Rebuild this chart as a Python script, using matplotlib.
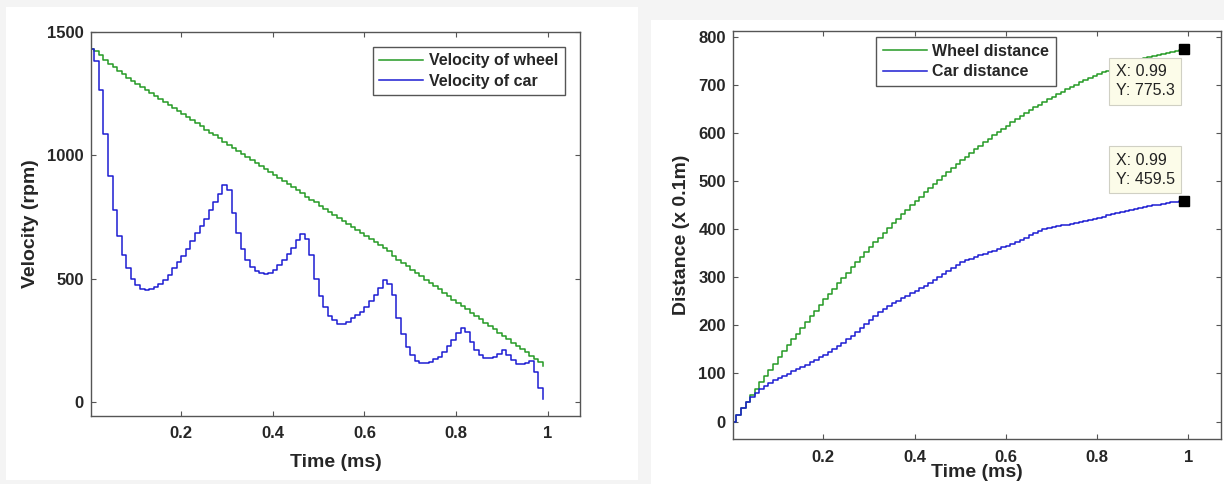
import matplotlib
matplotlib.use('Agg')
import matplotlib.pyplot as plt
from matplotlib.patches import Rectangle

time_ms = [round(0.01 * k, 2) for k in range(100)]
wheel_velocity = [1432, 1422, 1404, 1387, 1371, 1356, 1342, 1328, 1314, 1301,
                  1289, 1277, 1265, 1252, 1240, 1228, 1215, 1203, 1191, 1178,
                  1166, 1154, 1141, 1129, 1117, 1104, 1092, 1080, 1068, 1055,
                  1043, 1031, 1018, 1006, 994, 981, 969, 957, 944, 932,
                  920, 907, 895, 883, 870, 858, 846, 833, 821, 809,
                  796, 784, 772, 759, 747, 735, 722, 710, 698, 686,
                  673, 661, 649, 636, 624, 612, 591, 577, 564, 550,
                  537, 524, 510, 497, 483, 470, 457, 443, 430, 416,
                  403, 390, 376, 363, 349, 336, 323, 309, 296, 282,
                  269, 256, 242, 229, 215, 202, 189, 175, 162, 148]
car_velocity = [1429, 1380, 1266, 1088, 915, 778, 672, 596, 542, 501,
                474, 457, 454, 457, 465, 478, 497, 517, 542, 569,
                592, 620, 652, 686, 713, 744, 778, 811, 842, 879,
                860, 766, 686, 620, 575, 546, 532, 525, 521, 525,
                534, 555, 575, 599, 626, 656, 680, 663, 596, 501,
                431, 387, 349, 333, 319, 319, 326, 340, 353, 366,
                387, 411, 434, 461, 497, 481, 434, 340, 276, 225,
                191, 167, 158, 158, 164, 174, 184, 205, 228, 252,
                279, 303, 286, 245, 211, 191, 178, 178, 185, 195,
                211, 191, 171, 154, 154, 158, 168, 124, 57, 12]
wheel_distance = [0.0, 14.0, 27.9, 41.6, 55.2, 68.6, 81.9, 95.0, 108.0, 120.8,
                  133.5, 146.1, 158.6, 171.0, 183.2, 195.3, 207.4, 219.2, 231.0, 242.6,
                  254.2, 265.6, 276.8, 288.0, 299.0, 310.0, 320.7, 331.4, 342.0, 352.4,
                  362.7, 372.9, 383.0, 393.0, 402.8, 412.5, 422.1, 431.6, 441.0, 450.2,
                  459.3, 468.3, 477.2, 485.9, 494.6, 503.1, 511.5, 519.7, 527.9, 535.9,
                  543.8, 551.6, 559.3, 566.8, 574.2, 581.5, 588.7, 595.8, 602.7, 609.5,
                  616.2, 622.8, 629.3, 635.6, 641.8, 647.9, 653.9, 659.7, 665.3, 670.8,
                  676.2, 681.5, 686.6, 691.6, 696.4, 701.2, 705.8, 710.2, 714.6, 718.8,
                  722.8, 726.8, 730.6, 734.3, 737.8, 741.2, 744.5, 747.7, 750.7, 753.6,
                  756.3, 759.0, 761.5, 763.8, 766.1, 768.2, 770.2, 772.0, 773.7, 775.3]
car_distance = [0.0, 14.1, 27.7, 40.2, 51.0, 60.0, 67.7, 74.4, 80.2, 85.6,
                90.5, 95.2, 99.7, 104.2, 108.7, 113.3, 118.0, 123.0, 128.1, 133.4,
                139.0, 144.9, 151.0, 157.4, 164.2, 171.3, 178.6, 186.3, 194.3, 202.6,
                211.3, 219.8, 227.4, 234.1, 240.3, 245.9, 251.3, 256.6, 261.8, 266.9,
                272.1, 277.4, 282.9, 288.5, 294.5, 300.6, 307.1, 313.8, 320.4, 326.3,
                331.2, 335.5, 339.3, 342.7, 346.0, 349.2, 352.3, 355.5, 358.9, 362.4,
                366.0, 369.8, 373.9, 378.2, 382.7, 387.6, 392.4, 396.7, 400.0, 402.8,
                405.0, 406.9, 408.5, 410.1, 411.6, 413.3, 415.0, 416.8, 418.8, 421.1,
                423.6, 426.3, 429.3, 432.1, 434.6, 436.6, 438.5, 440.3, 442.0, 443.9,
                445.8, 447.9, 449.8, 451.5, 453.0, 454.5, 456.1, 457.7, 458.9, 459.5]
x_ticks = [0.2, 0.4, 0.6, 0.8, 1.0]
x_tick_labels = ['0.2', '0.4', '0.6', '0.8', '1']
velocity_ticks = [0, 500, 1000, 1500]
distance_ticks = [0, 100, 200, 300, 400, 500, 600, 700, 800]
tip_x = [0.99, 0.99]
tip_y = [775.3, 459.5]

W, H = 1224, 484
plt.rcParams['font.family'] = ['Liberation Sans', 'DejaVu Sans']
fig = plt.figure(figsize=(W / 100, H / 100), dpi=100, facecolor='#f4f4f4')
fig.patches.append(Rectangle((6 / W, 4 / H), 632 / W, 473 / H, transform=fig.transFigure,
                             facecolor='white', edgecolor='none', zorder=-5))
fig.patches.append(Rectangle((651 / W, 0), 573 / W, 464 / H, transform=fig.transFigure,
                             facecolor='white', edgecolor='none', zorder=-5))

green = '#259a25'
blue = '#1c1cd2'
axcol = '#555555'
txtcol = '#262626'


def style(ax):
    ax.set_facecolor('white')
    for s in ax.spines.values():
        s.set_color(axcol)
        s.set_linewidth(1.0)
    ax.tick_params(direction='in', top=True, right=True, length=3.6, width=0.8,
                   color=axcol, labelsize=12, labelcolor=txtcol)
    ax.tick_params(axis='x', pad=7.5)
    ax.tick_params(axis='y', pad=5.5)
    for lab in ax.get_xticklabels() + ax.get_yticklabels():
        lab.set_fontweight('bold')


def legend(ax, anchor):
    leg = ax.legend(loc='upper right', bbox_to_anchor=anchor, borderaxespad=0,
                    prop={'weight': 'bold', 'size': 11.5}, fancybox=False, framealpha=1,
                    edgecolor=axcol, handlelength=2.73, handletextpad=0.36,
                    borderpad=0.42, labelspacing=0.32)
    leg.get_frame().set_linewidth(1.0)
    for t in leg.get_texts():
        t.set_color(txtcol)


ax1 = fig.add_axes([91.3 / W, (H - 416) / H, 488.3 / W, 384.3 / H])
ax1.step(time_ms, wheel_velocity, where='post', color=green, lw=1.1, label='Velocity of wheel')
ax1.step(time_ms, car_velocity, where='post', color=blue, lw=1.1, label='Velocity of car')
ax1.set_xlim(0.0035, 1.07)
ax1.set_ylim(-55, 1500)
ax1.set_xticks(x_ticks)
ax1.set_xticklabels(x_tick_labels)
ax1.set_yticks(velocity_ticks)
style(ax1)
ax1.set_xlabel('Time (ms)', fontsize=14, fontweight='bold', color=txtcol)
ax1.xaxis.label.set_va('center')
ax1.xaxis.set_label_coords(0.5, -0.1223)
ax1.set_ylabel('Velocity (rpm)', fontsize=14, fontweight='bold', color=txtcol)
ax1.yaxis.label.set_va('center')
ax1.yaxis.set_label_coords(-0.1247, 0.5)
legend(ax1, (0.9697, 0.961))

ax2 = fig.add_axes([733.4 / W, (H - 439.3) / H, 487.5 / W, 408.3 / H])
ax2.step(time_ms, wheel_distance, where='post', color=green, lw=1.1, label='Wheel distance')
ax2.step(time_ms, car_distance, where='post', color=blue, lw=1.1, label='Car distance')
ax2.set_xlim(0.0033, 1.071)
ax2.set_ylim(-37, 813)
ax2.set_xticks(x_ticks)
ax2.set_xticklabels(x_tick_labels)
ax2.set_yticks(distance_ticks)
style(ax2)
ax2.set_xlabel('Time (ms)', fontsize=14, fontweight='bold', color=txtcol)
ax2.xaxis.label.set_va('center')
ax2.xaxis.set_label_coords(0.5, -0.0825)
ax2.set_ylabel('Distance (x 0.1m)', fontsize=14, fontweight='bold', color=txtcol)
ax2.yaxis.label.set_va('center')
ax2.yaxis.set_label_coords(-0.1065, 0.5)
legend(ax2, (0.6617, 0.9846))

ax2.plot(tip_x, tip_y, 's', color='black', ms=7, clip_on=False, zorder=5)
for xv, yv, dy, va in [(tip_x[0], tip_y[0], -14.9, 'top'), (tip_x[1], tip_y[1], 14.0, 'bottom')]:
    ax2.annotate(f'X: {xv:g}\nY: {yv:g}', xy=(xv, yv), xycoords='data',
                 xytext=(-68.2, dy), textcoords='offset pixels', ha='left', va=va,
                 fontsize=11.5, color='#222222', linespacing=1.35, zorder=6,
                 bbox=dict(boxstyle='square,pad=0.4', facecolor='#fcfce9',
                           edgecolor='#d0d0c4', linewidth=0.8))

fig.savefig('out.png', dpi=100, facecolor=fig.get_facecolor())
